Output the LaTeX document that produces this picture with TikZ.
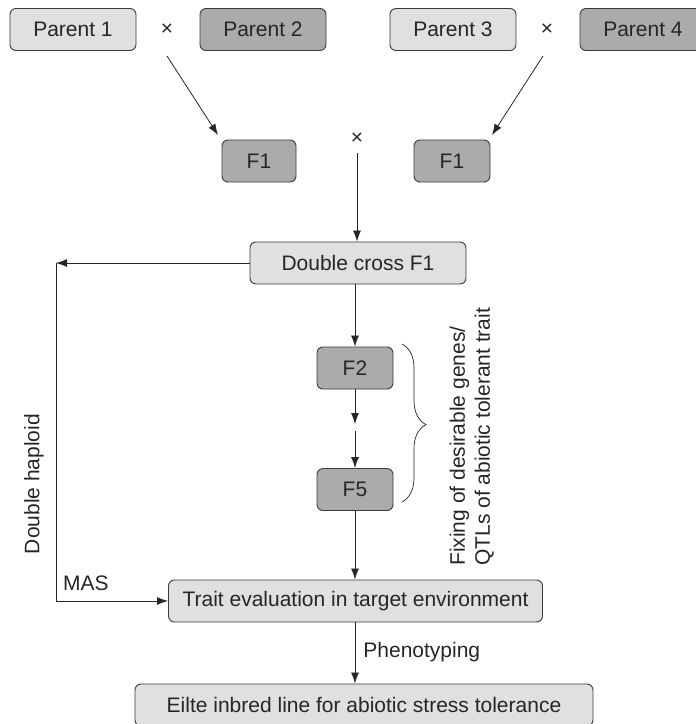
\documentclass[tikz,border=0pt]{standalone}
\usepackage{fontspec}
\setmainfont{Liberation Sans}
\usetikzlibrary{arrows.meta,decorations.pathreplacing}
\definecolor{lightfill}{HTML}{E0E0E0}
\definecolor{darkfill}{HTML}{ABABAB}
\definecolor{edge}{HTML}{3A3A3A}
\tikzset{
  boxbase/.style={draw=edge, line width=0.9pt, rounded corners=6pt, inner sep=0pt, minimum height=42pt, text=black!85, font=\fontsize{21}{24}\selectfont},
  lightbox/.style={boxbase, fill=lightfill},
  darkbox/.style={boxbase, fill=darkfill},
  lbl/.style={inner sep=0pt, text=black!85, font=\fontsize{21}{24}\selectfont},
  conn/.style={draw=black!85, line width=0.8pt},
  arr/.style={conn, -{Latex[length=11pt,width=8pt]}},
}
\begin{document}
\begin{tikzpicture}[x=1pt,y=-1pt]
\useasboundingbox (0,0) rectangle (696,724);
% top row
\node[lightbox, minimum width=126pt] (p1) at (73,29.5) {Parent 1};
\node[lbl] (x1) at (167,30) {×};
\node[darkbox, minimum width=126pt] (p2) at (263,29.5) {Parent 2};
\node[lightbox, minimum width=126pt] (p3) at (453,29.5) {Parent 3};
\node[lbl] (x2) at (547,30) {×};
\node[darkbox, minimum width=126pt] (p4) at (643,29.5) {Parent 4};
% F1 row
\node[darkbox, minimum width=74pt] (f1a) at (259,161) {F1};
\node[darkbox, minimum width=76pt] (f1b) at (452,161) {F1};
\node[lbl] (x3) at (357,139) {×};
\coordinate (x1s) at (167,56);
\coordinate (x1e) at (218,135);
\coordinate (x2s) at (543,56);
\coordinate (x2e) at (492,135);
\coordinate (x3s) at (357,153);
\draw[arr] (x1s) -- (x1e);
\draw[arr] (x2s) -- (x2e);
% double cross
\node[lightbox, minimum width=216pt] (dc) at (358,263) {Double cross F1};
\draw[arr] (x3s) -- (x3s |- dc.north);
% F2, F5
\node[darkbox, minimum width=76pt] (f2) at (355,368) {F2};
\node[darkbox, minimum width=76pt] (f5) at (355,489.5) {F5};
\coordinate (mida) at (355,424);
\coordinate (midb) at (355,431);
\draw[arr] (f2 |- dc.south) -- (f2.north);
\draw[arr] (f2.south) -- (mida);
\draw[arr] (midb) -- (f5.north);
% trait & elite
\node[lightbox, minimum width=374pt] (tr) at (355.5,601) {Trait evaluation in target environment};
\node[lightbox, minimum width=458pt] (el) at (364,705) {Eilte inbred line for abiotic stress tolerance};
\draw[arr] (f5.south) -- (f5.south |- tr.north);
\draw[arr] (tr.south -| f5.south) -- node[lbl, right=8pt, pos=0.48] (ph) {Phenotyping} (f5.south |- el.north);
% left loop
\coordinate (lt) at (56,263);
\coordinate (lb) at (56,601);
\draw[arr] (dc.west) -- (lt);
\draw[arr] (lt) -- (lb) -- (tr.west);
\node[lbl, rotate=90] (dh) at (34,484) {Double haploid};
\node[lbl] (mas) at (86,583) {MAS};
% brace
\coordinate (bt) at (402,344);
\coordinate (bb) at (402,502);
\draw[conn, line width=0.7pt, decorate, decoration={brace, amplitude=24pt, aspect=0.51}] (bt) -- (bb);
\node[lbl, rotate=90, align=left, anchor=south west, font=\fontsize{21}{25}\selectfont] (fix) at (494,566) {Fixing of desirable genes/\\QTLs of abiotic tolerant trait};
\end{tikzpicture}
\end{document}
